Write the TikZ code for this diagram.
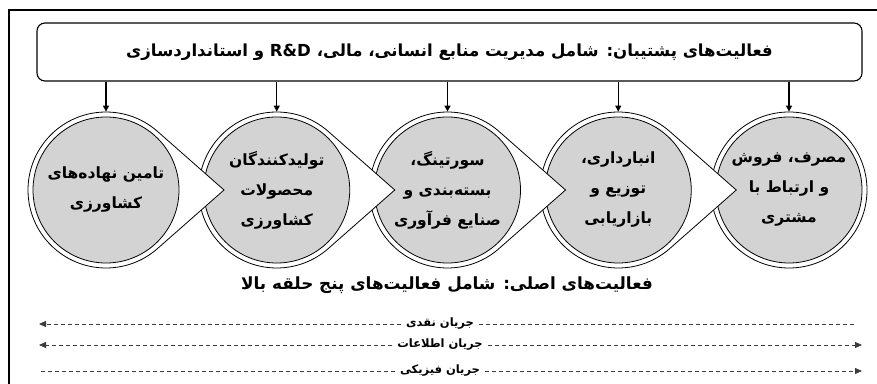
\documentclass[tikz,border=0pt]{standalone}
\usepackage{fontspec}
\usepackage{xcolor}
\usetikzlibrary{arrows.meta}
\newfontfamily\arabicfont[Script=Arabic]{DejaVu Sans}
\TeXXeTstate=1
\definecolor{stagegray}{RGB}{211,211,211}
\definecolor{flowgray}{RGB}{60,60,60}
\newcommand{\rtl}[1]{\beginR #1\endR}

\begin{document}
\begin{tikzpicture}[x=1pt,y=1pt,
    frame/.style={draw,line width=1.4pt},
    support/.style={draw,line width=1.1pt,rounded corners=8pt,minimum width=825pt,
      minimum height=58pt,inner sep=0pt,font=\arabicfont\bfseries\fontsize{16.6}{20}\selectfont},
    mainhead/.style={inner sep=0pt,font=\arabicfont\bfseries\fontsize{16.8}{20}\selectfont},
    ring/.style={draw,line width=0.8pt,fill=white},
    stage/.style={circle,draw,line width=0.8pt,fill=stagegray,minimum size=146pt,inner sep=0pt},
    stagetext/.style={align=center,inner sep=0pt,font=\arabicfont\bfseries\fontsize{15.5}{30}\selectfont},
    supparrow/.style={-{Triangle[length=6pt,width=6pt]},line width=1.2pt,shorten >=5pt},
    flowlabel/.style={font=\arabicfont\bfseries\fontsize{11.5}{14}\selectfont,inner sep=5pt},
    flowline/.style={draw=flowgray,dash pattern=on 4pt off 3pt,line width=0.8pt},
    flowtip/.style={-{Triangle[length=7pt,width=6pt]}}
  ]
    \useasboundingbox (0,0) rectangle (877,383);
    \draw[frame] (9,-10) rectangle (885,373);

    % support activities
    \node[support] (support) at (449.5,331) {\rtl{فعالیت‌های پشتیبان: شامل مدیریت منابع انسانی، مالی، \beginL R\&D\endL{} و استانداردسازی}};

    % five rings, drawn right to left so each tail lies on the next ring
    \draw[ring] (789,193) circle[radius=78];
    \node[stage] (s5) at (789,193) {};
    \node[stagetext] (t5) at (s5) {\rtl{مصرف، فروش}\\\rtl{و ارتباط با}\\\rtl{مشتری}};

    \draw[ring] (618.25,193) ++(48.6:78) arc[start angle=48.6,end angle=311.4,radius=78] -- (736.25,193) -- cycle;
    \node[stage] (s4) at (618.25,193) {};
    \node[stagetext] (t4) at (s4) {\rtl{انبارداری،}\\\rtl{توزیع و}\\\rtl{بازاریابی}};

    \draw[ring] (447.5,193) ++(48.6:78) arc[start angle=48.6,end angle=311.4,radius=78] -- (565.5,193) -- cycle;
    \node[stage] (s3) at (447.5,193) {};
    \node[stagetext] (t3) at (s3) {\rtl{سورتینگ،}\\\rtl{بسته‌بندی و}\\\rtl{صنایع فرآوری}};

    \draw[ring] (276.75,193) ++(48.6:78) arc[start angle=48.6,end angle=311.4,radius=78] -- (394.75,193) -- cycle;
    \node[stage] (s2) at (276.75,193) {};
    \node[stagetext] (t2) at (s2) {\rtl{تولیدکنندگان}\\\rtl{محصولات}\\\rtl{کشاورزی}};

    \draw[ring] (106,193) ++(48.6:78) arc[start angle=48.6,end angle=311.4,radius=78] -- (224,193) -- cycle;
    \node[stage] (s1) at (106,193) {};
    \node[stagetext] (t1) at (s1) {\rtl{تامین نهاده‌های}\\\rtl{کشاورزی}};

    \draw[supparrow] (support.south -| s1.north) -- (s1.north);
    \draw[supparrow] (support.south -| s2.north) -- (s2.north);
    \draw[supparrow] (support.south -| s3.north) -- (s3.north);
    \draw[supparrow] (support.south -| s4.north) -- (s4.north);
    \draw[supparrow] (support.south -| s5.north) -- (s5.north);

    % main activities
    \node[mainhead] (core) at (447,98) {\rtl{فعالیت‌های اصلی: شامل فعالیت‌های پنج حلقه بالا}};

    % flows
    \node[flowlabel] (cash) at (440,59) {\rtl{جریان نقدی}};
    \node[flowlabel] (info) at (440,38) {\rtl{جریان اطلاعات}};
    \node[flowlabel] (phys) at (440,12) {\rtl{جریان فیزیکی}};
    \coordinate (cashL) at (39,59);
    \coordinate (cashR) at (855,59);
    \coordinate (infoL) at (39,38);
    \coordinate (infoR) at (862,38);
    \coordinate (physL) at (38,12);
    \coordinate (physR) at (862,12);

    \draw[flowline,flowtip] (cash.west) -- (cashL);
    \draw[flowline] (cash.east) -- (cashR);
    \draw[flowline,flowtip] (info.west) -- (infoL);
    \draw[flowline,flowtip] (info.east) -- (infoR);
    \draw[flowline] (phys.west) -- (physL);
    \draw[flowline,flowtip] (phys.east) -- (physR);
  \end{tikzpicture}
\end{document}
